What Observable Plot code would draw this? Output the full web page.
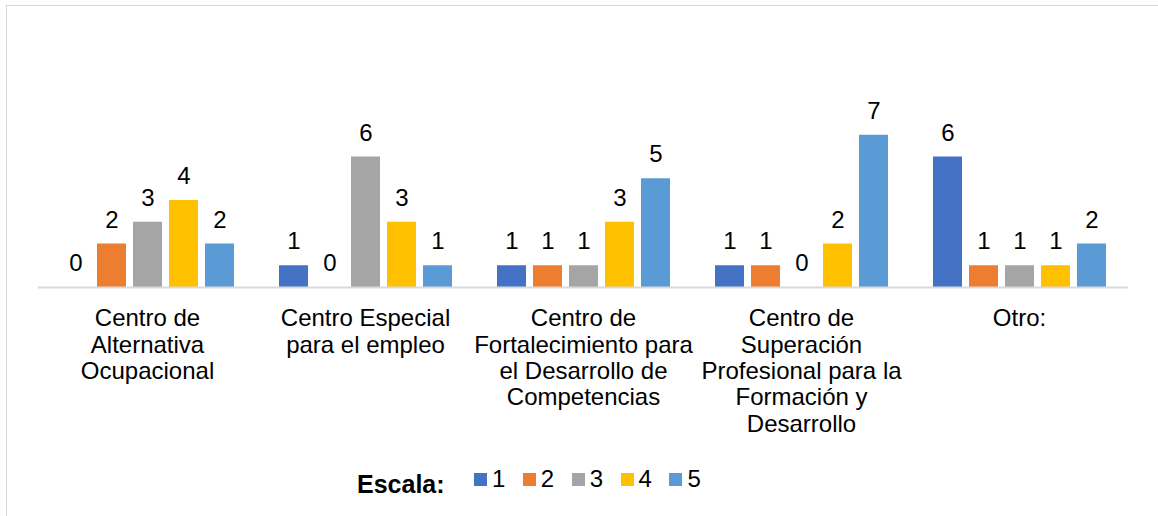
<!DOCTYPE html>
<html>
<head>
<meta charset="utf-8">
<script src="https://cdn.jsdelivr.net/npm/d3@7"></script>
<script src="https://cdn.jsdelivr.net/npm/@observablehq/plot@0.6"></script>
<style>
  html, body { margin: 0; padding: 0; background: #fff; overflow: hidden; }
  body { width: 1158px; height: 516px; position: relative; font-family: "Liberation Sans", Arial, sans-serif; }
  #frame { position: absolute; left: 6px; top: 5px; width: 1300px; height: 700px; border: 1.5px solid #D9D9D9; box-sizing: border-box; }
  #chart { position: absolute; left: 0; top: 0; }
  #legend-title { position: absolute; left: 357px; top: 472px; font-size: 25px; line-height: 25px; font-weight: bold; color: #000; }
  #legend-items { position: absolute; left: 474px; top: 467px; display: flex; align-items: flex-start; }
  .item { display: flex; align-items: flex-start; margin-right: 17.5px; }
  .sw { width: 13px; height: 13px; margin-top: 6px; margin-right: 5px; }
  .lab { font-size: 24px; line-height: 24px; color: #000; }
</style>
</head>
<body>
<div id="frame"></div>
<div id="chart"></div>
<div id="legend-title">Escala:</div>
<div id="legend-items"></div>
<script>
const categories = [
  "Centro de Alternativa Ocupacional",
  "Centro Especial para el empleo",
  "Centro de Fortalecimiento para el Desarrollo de Competencias",
  "Centro de Superación Profesional para la Formación y Desarrollo",
  "Otro:"
];
const categoryLines = [
  "Centro de\nAlternativa\nOcupacional",
  "Centro Especial\npara el empleo",
  "Centro de\nFortalecimiento para\nel Desarrollo de\nCompetencias",
  "Centro de\nSuperación\nProfesional para la\nFormación y\nDesarrollo",
  "Otro:"
];
const scaleLevels = ["1", "2", "3", "4", "5"];
const values1 = [0, 1, 1, 1, 6];
const values2 = [2, 0, 1, 1, 1];
const values3 = [3, 6, 1, 0, 1];
const values4 = [4, 3, 3, 2, 1];
const values5 = [2, 1, 5, 7, 2];
const colors = ["#4472C4", "#ED7D31", "#A5A5A5", "#FFC000", "#5B9BD5"];

const series = [values1, values2, values3, values4, values5];
const rows = [];
categories.forEach((cat, i) => {
  scaleLevels.forEach((lvl, j) => {
    rows.push({cat, level: lvl, value: series[j][i]});
  });
});

const chart = Plot.plot({
  width: 1158,
  height: 450,
  marginLeft: 37,
  marginRight: 28,
  marginTop: 113,
  marginBottom: 163,
  style: {fontFamily: "'Liberation Sans', Arial, sans-serif", color: "#000", background: "transparent"},
  fx: {domain: categories, paddingInner: 0.165, paddingOuter: 0.0825, axis: null, label: null},
  x: {domain: scaleLevels, paddingInner: 0.205, paddingOuter: 0.1025, axis: null, label: null},
  y: {domain: [0, 8], axis: null, label: null},
  color: {domain: scaleLevels, range: colors},
  marks: [
    Plot.barY(rows, {fx: "cat", x: "level", y: "value", fill: "level"}),
    Plot.ruleY(rows.filter(d => d.level === "1"), {fx: "cat", y: () => 0, stroke: "#D9D9D9", strokeWidth: 2, insetLeft: -18.1, insetRight: -18.1}),
    Plot.text(rows, {fx: "cat", x: "level", y: "value", text: d => String(d.value), dy: -24, fontSize: 24, lineAnchor: "middle", fill: "#000"}),
    Plot.axisFx({anchor: "bottom", tickSize: 0, tickPadding: 20, fontSize: 24, lineHeight: 1.1, label: null,
      tickFormat: d => categoryLines[categories.indexOf(d)], fill: "#000"})
  ]
});
document.getElementById("chart").appendChild(chart);

const legend = document.getElementById("legend-items");
scaleLevels.forEach((lvl, i) => {
  const item = document.createElement("div");
  item.className = "item";
  const sw = document.createElement("div");
  sw.className = "sw";
  sw.style.background = colors[i];
  const lab = document.createElement("div");
  lab.className = "lab";
  lab.textContent = lvl;
  item.appendChild(sw);
  item.appendChild(lab);
  legend.appendChild(item);
});
</script>
</body>
</html>
